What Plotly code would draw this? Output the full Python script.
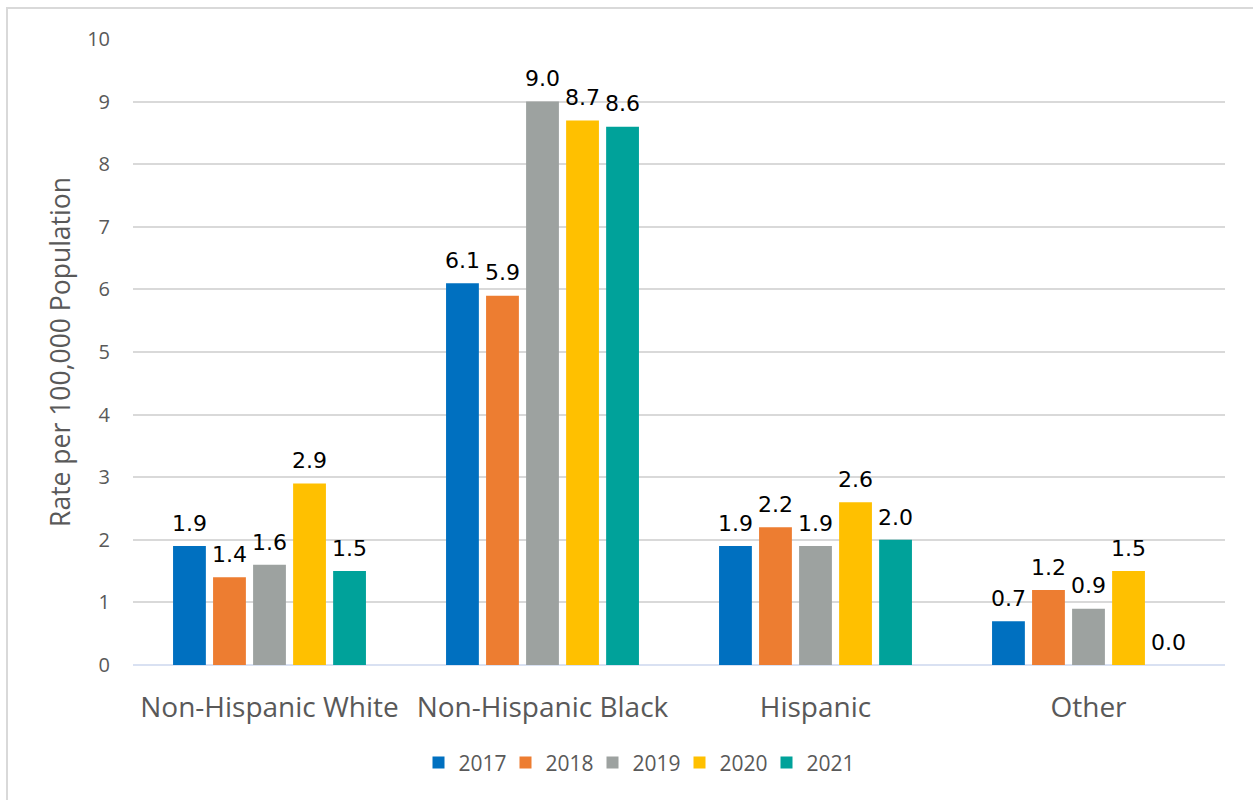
import plotly.graph_objects as go

categories = ["Non-Hispanic White", "Non-Hispanic Black", "Hispanic", "Other"]
years = ["2017", "2018", "2019", "2020", "2021"]
values = {
    "2017": [1.9, 6.1, 1.9, 0.7],
    "2018": [1.4, 5.9, 2.2, 1.2],
    "2019": [1.6, 9.0, 1.9, 0.9],
    "2020": [2.9, 8.7, 2.6, 1.5],
    "2021": [1.5, 8.6, 2.0, 0.0],
}
colors = ["#0070C0", "#ED7D31", "#9DA2A0", "#FFC000", "#00A29A"]

fig = go.Figure()
for y, c in zip(years, colors):
    fig.add_trace(go.Bar(
        name=y, x=categories, y=values[y], marker_color=c,
        marker_line_width=0, offsetgroup=y,
    ))
for y in years:
    fig.add_trace(go.Scatter(
        x=categories, y=values[y], mode="markers+text", offsetgroup=y,
        marker=dict(size=14, opacity=0), showlegend=False, hoverinfo="skip",
        text=[f"{v:.1f}" for v in values[y]], textposition="top center",
        textfont=dict(family="DejaVu Sans", size=22, color="#000000"),
        cliponaxis=False,
    ))

W, H = 1253, 800
l, r, t, b = 133, 28, 39, 135
pw, ph = W - l - r, H - t - b
x0p = (7 - l) / pw
y1p = (H - b - 8) / ph

fig.update_layout(
    width=W, height=H,
    margin=dict(l=l, r=r, t=t, b=b),
    barmode="group", bargap=0.267, bargroupgap=0.18,
    scattermode="group", scattergap=0.267,
    plot_bgcolor="white", paper_bgcolor="white",
    font=dict(family="Open Sans", color="#595959"),
    xaxis=dict(tickfont=dict(size=28, color="#595959"), showgrid=False,
               ticks="", showline=False, ticklabelstandoff=23),
    yaxis=dict(range=[0, 10], dtick=1, tickfont=dict(size=20, color="#595959"),
               gridcolor="#D9D9D9", gridwidth=1.5, zeroline=True,
               zerolinecolor="#D9E1F2", zerolinewidth=2, ticks="",
               ticklabelstandoff=22,
               title=dict(text="Rate per 100,000 Population",
                          font=dict(size=26.5, color="#595959"), standoff=8)),
    legend=dict(orientation="h", x=(636 - l) / pw, xanchor="center", y=-0.1565,
                yanchor="middle", font=dict(size=21, color="#595959"),
                itemwidth=30, entrywidth=42, entrywidthmode="pixels",
                traceorder="normal"),
    shapes=[dict(type="rect", xref="paper", yref="paper",
                 x0=x0p, x1=1.2, y0=-0.5, y1=y1p,
                 line=dict(color="#D9D9D9", width=2), fillcolor="rgba(0,0,0,0)",
                 layer="below")],
)

fig.write_html("out.html")
